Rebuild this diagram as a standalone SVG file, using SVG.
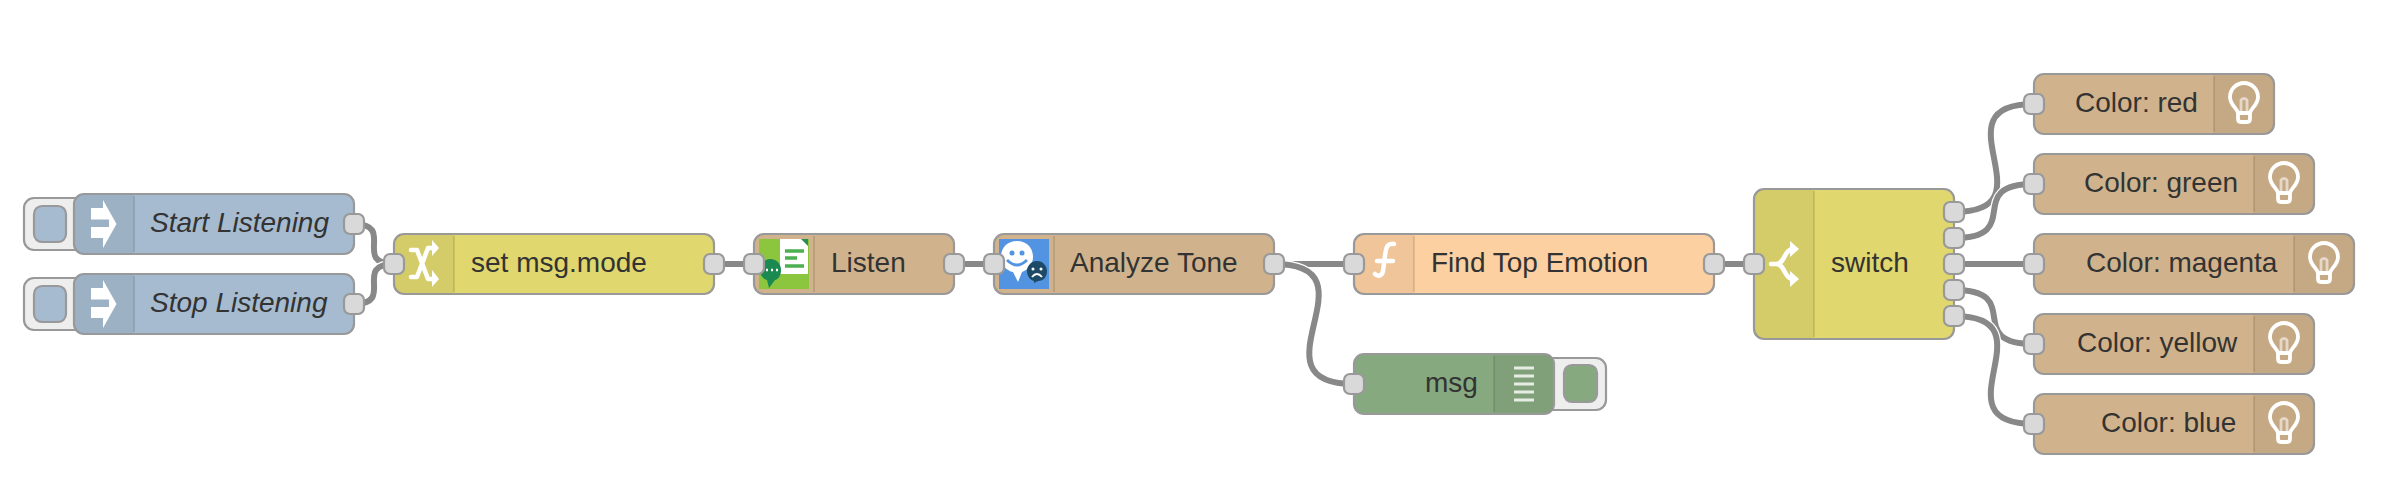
<svg xmlns="http://www.w3.org/2000/svg" xmlns:xlink="http://www.w3.org/1999/xlink" width="2390" height="504" viewBox="0 0 2390 504">
<style>
text{font-family:"Liberation Sans",Arial,sans-serif;font-size:28px;fill:#333}
.it{font-style:italic}
.body{stroke:#999;stroke-width:2.2}
.blue{fill:#a6bbcf}.yel{fill:#e0d76e}.tan{fill:#d0b38c}.pch{fill:#fdd0a2}.grn{fill:#87a980}
.shade{fill:#000;fill-opacity:.05}
.div{stroke:#000;stroke-opacity:.1;stroke-width:2;fill:none}
.port{fill:#d9d9d9;stroke:#999;stroke-width:2.2}
.btn{fill:#eee;stroke:#999;stroke-width:2.2}
.inner{stroke:#999;stroke-width:2.2}
.ico{fill:none;stroke:#fff;stroke-width:4.500;stroke-linecap:round;stroke-linejoin:round;filter:url(#soft)}
.icof{fill:#fff;filter:url(#soft)}
.lo{fill:none;stroke:#fff;stroke-width:8.500}
.ln{fill:none;stroke:#888;stroke-width:6}
</style>
<defs>
<filter id="soft" x="-20%" y="-20%" width="140%" height="140%"><feGaussianBlur stdDeviation="0.6"/></filter>
<rect id="p" x="-10" y="-10" width="20" height="20" rx="6" class="port"/>
<g id="bulb">
<path class="ico" style="stroke-width:3.800" d="M-6 9 C-7 4 -14 1 -14 -7 A14 14 0 1 1 14 -7 C14 1 7 4 6 9 V15 Q6 18 3 18 H-3 Q-6 18 -6 15 Z M-6 9 H6"/>
<path class="ico" style="stroke-width:2.800;stroke-opacity:.55" d="M-3 9 V-4 Q0 -7 3 -4 V9"/>
</g>
<path id="inj" class="icof" d="M91 208 H103 V200 L116.500 224 L103 248 V238 H91 V227 H109 V219.500 H91 Z"/>
</defs>

<g id="connectors">
<path class="lo" d="M354 224 C396 224 352 264 394 264"/><path class="ln" d="M354 224 C396 224 352 264 394 264"/>
<path class="lo" d="M354 304 C396 304 352 264 394 264"/><path class="ln" d="M354 304 C396 304 352 264 394 264"/>
<path class="ln" d="M714 264 H754"/>
<path class="ln" d="M954 264 H994"/>
<path class="lo" d="M1274 264 H1354"/><path class="ln" d="M1274 264 H1354"/>
<path class="lo" d="M1274 264 C1382 264 1246 384 1354 384"/><path class="ln" d="M1274 264 C1382 264 1246 384 1354 384"/>
<path class="ln" d="M1714 264 H1754"/>
<path class="lo" d="M1954 212 C2055 212 1933 104 2034 104"/><path class="ln" d="M1954 212 C2055 212 1933 104 2034 104"/>
<path class="lo" d="M1954 238 C2026 238 1962 184 2034 184"/><path class="ln" d="M1954 238 C2026 238 1962 184 2034 184"/>
<path class="ln" d="M1954 264 H2034"/>
<path class="lo" d="M1954 290 C2026 290 1962 344 2034 344"/><path class="ln" d="M1954 290 C2026 290 1962 344 2034 344"/>
<path class="lo" d="M1954 316 C2055 316 1933 424 2034 424"/><path class="ln" d="M1954 316 C2055 316 1933 424 2034 424"/>
</g>

<g id="start-listening">
<rect class="btn" x="24" y="198" width="70" height="52" rx="10"/>
<rect class="blue inner" x="34" y="206" width="32" height="36" rx="8"/>
<rect class="blue body" x="74" y="194" width="280" height="60" rx="10"/>
<path class="shade" d="M84 195 H134 V253 H84 Q75 253 75 244 V204 Q75 195 84 195 Z"/>
<path class="div" d="M134 196 V252"/>
<use href="#inj"/>
<text class="it" x="150" y="232">Start Listening</text>
<use href="#p" x="354" y="224"/>
</g>

<g id="stop-listening">
<rect class="btn" x="24" y="278" width="70" height="52" rx="10"/>
<rect class="blue inner" x="34" y="286" width="32" height="36" rx="8"/>
<rect class="blue body" x="74" y="274" width="280" height="60" rx="10"/>
<path class="shade" d="M84 275 H134 V333 H84 Q75 333 75 324 V284 Q75 275 84 275 Z"/>
<path class="div" d="M134 276 V332"/>
<use href="#inj" y="80"/>
<text class="it" x="150" y="312">Stop Listening</text>
<use href="#p" x="354" y="304"/>
</g>

<g id="set-msg-mode">
<rect class="yel body" x="394" y="234" width="320" height="60" rx="10"/>
<path class="shade" d="M404 235 H454 V293 H404 Q395 293 395 284 V244 Q395 235 404 235 Z"/>
<path class="div" d="M454 236 V292"/>
<path class="ico" d="M411 250 H417 L428 279 H434 M411 277 H417 L428 248 H434"/>
<path class="icof" d="M432 240 L439 248 L432 256 Z M432 270 L439 279 L432 287 Z"/>
<text x="471" y="272">set msg.mode</text>
<use href="#p" x="394" y="264"/>
<use href="#p" x="714" y="264"/>
</g>

<g id="listen">
<rect class="tan body" x="754" y="234" width="200" height="60" rx="10"/>
<path class="div" d="M814 236 V292"/>
<rect x="759" y="239" width="50" height="50" fill="#8cc63f"/>
<path d="M780 239 H808 V274 H780 Z" fill="#fff"/>
<path d="M801 239 H808 V246 Z" fill="#2e8b57"/>
<path d="M785 251 H804 M785 258 H797 M785 266 H804" stroke="#4caf50" stroke-width="3.500" fill="none"/>
<path d="M770.500 259 C764 259 760 264 760 270 C760 275 763 279 767 280 L769 288 L775 280 C779 279 781 275 781 270 C781 264 777 259 770.500 259 Z" fill="#1a8a50"/>
<path d="M766 270 H768 M771 270 H773 M776 270 H778" stroke="#fff" stroke-width="2.500" fill="none"/>
<text x="831" y="272">Listen</text>
<use href="#p" x="754" y="264"/>
<use href="#p" x="954" y="264"/>
</g>

<g id="analyze-tone">
<rect class="tan body" x="994" y="234" width="280" height="60" rx="10"/>
<path class="div" d="M1054 236 V292"/>
<rect x="999" y="239" width="50" height="50" fill="#5294e2"/>
<path d="M1017 241 C1007 241 1001 248 1001 257 C1001 265 1007 271 1013 272 L1018 282 L1022 272 C1028 270 1033 264 1033 257 C1033 248 1027 241 1017 241 Z" fill="#fff"/>
<circle cx="1012" cy="253" r="2.500" fill="#5294e2"/><circle cx="1022" cy="253" r="2.500" fill="#5294e2"/>
<path d="M1007 260 Q1017 270 1027 260" fill="none" stroke="#5294e2" stroke-width="2.800"/>
<path d="M1037 261 C1031 261 1027 266 1027 271 C1027 276 1030 280 1034 281 L1034 283 L1038 281 C1044 281 1047 276 1047 271 C1047 266 1043 261 1037 261 Z" fill="#1d4a66"/>
<circle cx="1033" cy="269" r="1.500" fill="#fff"/><circle cx="1041" cy="269" r="1.500" fill="#fff"/>
<path d="M1032 277 Q1037 271 1042 277" fill="none" stroke="#fff" stroke-width="1.800"/>
<text x="1070" y="272">Analyze Tone</text>
<use href="#p" x="994" y="264"/>
<use href="#p" x="1274" y="264"/>
</g>

<g id="find-top-emotion">
<rect class="pch body" x="1354" y="234" width="360" height="60" rx="10"/>
<path class="shade" d="M1364 235 H1414 V293 H1364 Q1355 293 1355 284 V244 Q1355 235 1364 235 Z"/>
<path class="div" d="M1414 236 V292"/>
<path class="ico" d="M1394 244 C1388 243 1386 247 1385.500 252 L1383 271 C1382 276 1378 277 1375 274 M1377 261 H1393"/>
<text x="1431" y="272">Find Top Emotion</text>
<use href="#p" x="1354" y="264"/>
<use href="#p" x="1714" y="264"/>
</g>

<g id="msg">
<rect class="btn" x="1530" y="358" width="76" height="52" rx="10"/>
<rect class="grn inner" x="1564" y="365" width="33" height="37" rx="8"/>
<rect class="grn body" x="1354" y="354" width="200" height="60" rx="10"/>
<path class="shade" d="M1494 355 H1544 Q1553 355 1553 364 V404 Q1553 413 1544 413 H1494 Z"/>
<path class="div" d="M1494 356 V412"/>
<path d="M1514 368 H1534 M1514 376 H1534 M1514 384 H1534 M1514 392 H1534 M1514 400 H1534" stroke="#fff" stroke-opacity=".8" stroke-width="3" fill="none"/>
<text x="1425" y="392">msg</text>
<use href="#p" x="1354" y="384"/>
</g>

<g id="switch">
<rect class="yel body" x="1754" y="189" width="200" height="150" rx="10"/>
<path class="shade" d="M1764 190 H1814 V338 H1764 Q1755 338 1755 329 V199 Q1755 190 1764 190 Z"/>
<path class="div" d="M1814 191 V337"/>
<path class="ico" d="M1771 264 H1776 C1785 264 1784 250 1792 249 M1776 264 C1785 264 1784 278 1792 279"/>
<path class="icof" d="M1790 241 L1799 249 L1790 257 Z M1790 271 L1799 279 L1790 287 Z"/>
<text x="1831" y="272">switch</text>
<use href="#p" x="1754" y="264"/>
<use href="#p" x="1954" y="212"/>
<use href="#p" x="1954" y="238"/>
<use href="#p" x="1954" y="264"/>
<use href="#p" x="1954" y="290"/>
<use href="#p" x="1954" y="316"/>
</g>

<g id="color-red">
<rect class="tan body" x="2034" y="74" width="240" height="60" rx="10"/>
<path class="shade" d="M2214 75 H2264 Q2273 75 2273 84 V124 Q2273 133 2264 133 H2214 Z"/>
<path class="div" d="M2214 76 V132"/>
<use href="#bulb" x="2244" y="104"/>
<text x="2075" y="112">Color: red</text>
<use href="#p" x="2034" y="104"/>
</g>
<g id="color-green">
<rect class="tan body" x="2034" y="154" width="280" height="60" rx="10"/>
<path class="shade" d="M2254 155 H2304 Q2313 155 2313 164 V204 Q2313 213 2304 213 H2254 Z"/>
<path class="div" d="M2254 156 V212"/>
<use href="#bulb" x="2284" y="184"/>
<text x="2084" y="192">Color: green</text>
<use href="#p" x="2034" y="184"/>
</g>
<g id="color-magenta">
<rect class="tan body" x="2034" y="234" width="320" height="60" rx="10"/>
<path class="shade" d="M2294 235 H2344 Q2353 235 2353 244 V284 Q2353 293 2344 293 H2294 Z"/>
<path class="div" d="M2294 236 V292"/>
<use href="#bulb" x="2324" y="264"/>
<text x="2086" y="272">Color: magenta</text>
<use href="#p" x="2034" y="264"/>
</g>
<g id="color-yellow">
<rect class="tan body" x="2034" y="314" width="280" height="60" rx="10"/>
<path class="shade" d="M2254 315 H2304 Q2313 315 2313 324 V364 Q2313 373 2304 373 H2254 Z"/>
<path class="div" d="M2254 316 V372"/>
<use href="#bulb" x="2284" y="344"/>
<text x="2077" y="352">Color: yellow</text>
<use href="#p" x="2034" y="344"/>
</g>
<g id="color-blue">
<rect class="tan body" x="2034" y="394" width="280" height="60" rx="10"/>
<path class="shade" d="M2254 395 H2304 Q2313 395 2313 404 V444 Q2313 453 2304 453 H2254 Z"/>
<path class="div" d="M2254 396 V452"/>
<use href="#bulb" x="2284" y="424"/>
<text x="2101" y="432">Color: blue</text>
<use href="#p" x="2034" y="424"/>
</g>
</svg>
